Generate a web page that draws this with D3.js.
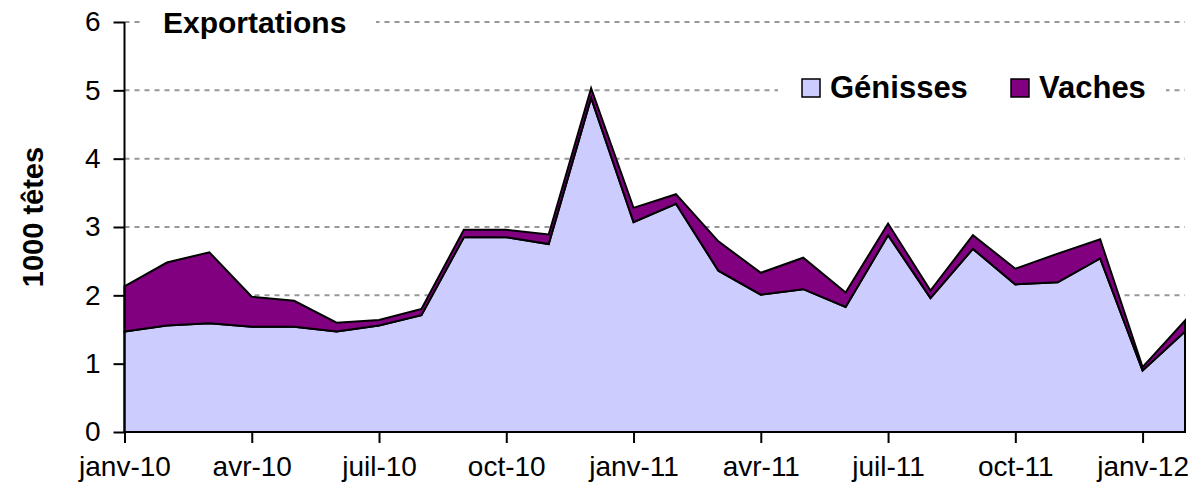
<!DOCTYPE html>
<html>
<head>
<meta charset="utf-8">
<script src="https://cdn.jsdelivr.net/npm/d3@7"></script>
<style>
  body { margin: 0; background: #fff; }
  svg { font-family: Arial, "Liberation Sans", sans-serif; }
</style>
</head>
<body>
<div id="chart"></div>
<script>
// months jan-10 .. feb-12
var months = ["janv-10","févr-10","mars-10","avr-10","mai-10","juin-10","juil-10","août-10","sept-10","oct-10","nov-10","déc-10",
              "janv-11","févr-11","mars-11","avr-11","mai-11","juin-11","juil-11","août-11","sept-11","oct-11","nov-11","déc-11",
              "janv-12","févr-12"];
var genisses = [1.47,1.56,1.59,1.54,1.54,1.47,1.56,1.71,2.85,2.85,2.75,4.89,3.07,3.34,2.36,2.01,2.09,1.83,2.88,1.96,2.68,2.16,2.19,2.54,0.90,1.47];
var vaches   = [0.66,0.92,1.04,0.44,0.38,0.13,0.08,0.09,0.11,0.11,0.14,0.14,0.21,0.14,0.43,0.32,0.46,0.21,0.17,0.11,0.20,0.23,0.42,0.28,0.05,0.16];
var x_ticks  = ["janv-10","avr-10","juil-10","oct-10","janv-11","avr-11","juil-11","oct-11","janv-12"];
var y_ticks  = [0,1,2,3,4,5,6];
var series   = ["Génisses","Vaches"];
var colours  = ["#CCCCFF","#800080"];

var width = 1196, height = 499;
var svg = d3.select("#chart").append("svg")
    .attr("width", width)
    .attr("height", height);

var x_scale = d3.scalePoint().domain(months).range([124.5, 1185]);
var y_scale = d3.scaleLinear().domain([0, 6]).range([432, 22]);

// table for the stack
var table = months.map(function(m, i) {
    return {month: m, "Génisses": genisses[i], "Vaches": vaches[i]};
});
var stacked = d3.stack().keys(series)(table);

// gridlines
svg.append("g")
    .selectAll("line")
    .data(y_ticks.filter(function(d) { return d > 0; }))
    .enter().append("line")
    .attr("x1", x_scale.range()[0])
    .attr("x2", x_scale.range()[1])
    .attr("y1", function(d) { return y_scale(d); })
    .attr("y2", function(d) { return y_scale(d); })
    .attr("stroke", "#969696")
    .attr("stroke-width", 2)
    .attr("stroke-dasharray", "5,5");

// areas
var area = d3.area()
    .x(function(d) { return x_scale(d.data.month); })
    .y0(function(d) { return y_scale(d[0]); })
    .y1(function(d) { return y_scale(d[1]); });

svg.append("g")
    .selectAll("path")
    .data(stacked)
    .enter().append("path")
    .attr("d", area)
    .attr("fill", function(d, i) { return colours[i]; })
    .attr("stroke", "black")
    .attr("stroke-width", 2)
    .attr("stroke-linejoin", "miter");

// x axis
var x_axis = d3.axisBottom(x_scale)
    .tickValues(x_ticks)
    .tickSize(11)
    .tickPadding(13);
var gx = svg.append("g")
    .attr("transform", "translate(0," + y_scale(0) + ")")
    .call(x_axis);
gx.select(".domain").attr("d", "M" + x_scale.range()[0] + ",0H" + x_scale.range()[1]);

// y axis
var y_axis = d3.axisLeft(y_scale)
    .tickValues(y_ticks)
    .tickFormat(d3.format("d"))
    .tickSize(11)
    .tickPadding(13);
var gy = svg.append("g")
    .attr("transform", "translate(" + x_scale.range()[0] + ",0)")
    .call(y_axis);
gy.select(".domain").attr("d", "M0," + y_scale(6) + "V" + y_scale(0));

svg.selectAll(".tick text")
    .attr("font-family", "Arial, 'Liberation Sans', sans-serif")
    .attr("font-size", 28)
    .attr("fill", "black");
svg.selectAll(".tick line, .domain")
    .attr("stroke", "black")
    .attr("stroke-width", 2);

// y axis label
svg.append("text")
    .attr("transform", "translate(43,217) rotate(-90)")
    .attr("text-anchor", "middle")
    .attr("font-size", 29)
    .attr("font-weight", "bold")
    .text("1000 têtes");

// title with white box
svg.append("rect")
    .attr("x", 143).attr("y", 8).attr("width", 233).attr("height", 30)
    .attr("fill", "white");
svg.append("text")
    .attr("x", 163).attr("y", 33)
    .attr("font-size", 30)
    .attr("font-weight", "bold")
    .text("Exportations");

// legend
var legend = svg.append("g");
legend.append("rect")
    .attr("x", 778).attr("y", 70).attr("width", 388).attr("height", 38)
    .attr("fill", "white");
var legend_x = [802, 1011];
var item = legend.selectAll("g.item")
    .data(series)
    .enter().append("g")
    .attr("class", "item")
    .attr("transform", function(d, i) { return "translate(" + legend_x[i] + ",79)"; });
item.append("rect")
    .attr("width", 18).attr("height", 18)
    .attr("fill", function(d, i) { return colours[i]; })
    .attr("stroke", "black")
    .attr("stroke-width", 1.5);
item.append("text")
    .attr("x", 28).attr("y", 19)
    .attr("font-size", 31)
    .attr("font-weight", "bold")
    .text(function(d) { return d; });
</script>
</body>
</html>
